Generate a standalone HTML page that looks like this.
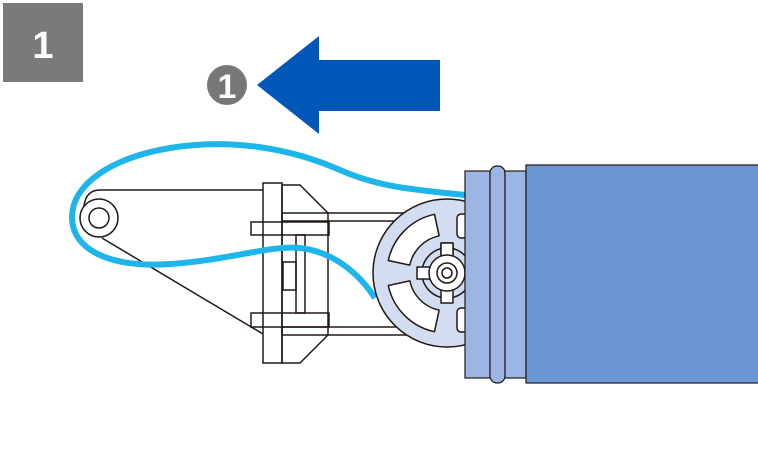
<!DOCTYPE html>
<html><head><meta charset="utf-8"><style>
html,body{margin:0;padding:0;background:#fff;}
svg{display:block}
</style></head><body>
<svg width="758" height="463" viewBox="0 0 758 463" xmlns="http://www.w3.org/2000/svg">
<rect x="3" y="3" width="80" height="79" fill="#7a7a7a"/>
<text x="43" y="58" font-family="Liberation Sans, sans-serif" font-weight="bold" font-size="38" fill="#fff" text-anchor="middle">1</text>
<circle cx="227" cy="85" r="20" fill="#777"/>
<text x="227" y="98" font-family="Liberation Sans, sans-serif" font-weight="bold" font-size="34" fill="#fff" text-anchor="middle">1</text>
<polygon points="257,85 319,36 319,60 440,60 440,111 319,111 319,134" fill="#0057b8"/>

<g fill="none" stroke="#231815" stroke-width="1.5">
<path d="M263,190 L100,190 Q86,190 84,206"/>
<circle cx="99" cy="218" r="19" fill="#fff"/>
<circle cx="99" cy="218" r="10"/>
<line x1="102" y1="238" x2="263" y2="334"/>
</g>

<g fill="none" stroke="#231815" stroke-width="1.5">
<polygon points="282,185 300,185 328,213 328,335 300,363 282,363" fill="#fff"/>
<rect x="282" y="213" width="185" height="8"/>
<rect x="282" y="327" width="185" height="8"/>
<rect x="296" y="235" width="9" height="78"/>
<rect x="283" y="262" width="13" height="28"/>
<rect x="263" y="183" width="19" height="180"/>
<rect x="251" y="222" width="78" height="13"/>
<rect x="251" y="313" width="78" height="14"/>
</g>

<path d="M465,195 C420,190 380,188 340,170 C290,148 230,138 170,148 C110,158 72,185 72,217 C72,250 110,268 170,264 C230,260 270,245 300,248 C335,252 360,275 375,298" fill="none" stroke="#1eb5ea" stroke-width="6"/>

<g stroke="#231815" stroke-width="1.5" stroke-linejoin="round">
<circle cx="447" cy="273" r="74" fill="#d2ddf1"/>
<path d="M388.3,260.5 A60,60 0 0 1 434.5,214.3 L439.1,235.8 A38,38 0 0 0 409.8,265.1 Z" fill="#fff"/>
<path d="M388.3,285.5 A60,60 0 0 0 434.5,331.7 L439.1,310.2 A38,38 0 0 1 409.8,280.9 Z" fill="#fff"/>
<rect x="457" y="214" width="12" height="24" rx="4" fill="#fff"/>
<rect x="457" y="308" width="12" height="24" rx="4" fill="#fff"/>
<circle cx="447" cy="273" r="25" fill="#d2ddf1"/>
<path d="M441,243 h12 v12 h0 M441,243 v12" fill="none"/>
<rect x="441" y="243" width="12" height="60" fill="#fff"/>
<rect x="417" y="267" width="60" height="12" fill="#fff"/>
<circle cx="447" cy="273" r="18" fill="#fff"/>
<circle cx="447" cy="273" r="10" fill="#fff"/>
<circle cx="447" cy="273" r="5" fill="#fff"/>
</g>

<g stroke="#231815" stroke-width="1.2">
<rect x="465" y="171" width="25" height="207" fill="#9bb6e4"/>
<rect x="490" y="166" width="15" height="217" rx="7" fill="#9bb6e4"/>
<rect x="505" y="171" width="21" height="207" fill="#9bb6e4"/>
<rect x="526" y="165" width="240" height="218" fill="#6a96d4"/>
</g>
</svg>
</body></html>
